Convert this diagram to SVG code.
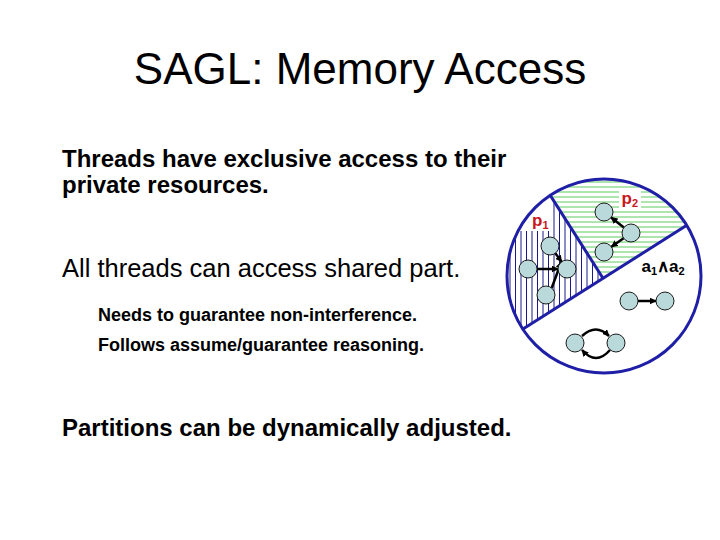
<svg xmlns="http://www.w3.org/2000/svg" width="720" height="540" viewBox="0 0 720 540">
<style>
.t{font-family:"Liberation Sans",Arial,sans-serif;fill:#000}
.b{font-weight:bold}
.lbl{font-family:"Liberation Sans",Arial,sans-serif;font-weight:bold;font-size:17px}
.red{fill:#C8171E}
.node{fill:#B9D9DA;stroke:#1a1a1a;stroke-width:1}
.edge{fill:none;stroke:#000;stroke-width:2.5}
.vh{stroke:#1a1a8c;stroke-width:1}
.gh{stroke:#5FCB5F;stroke-width:1.2}
.blue{fill:none;stroke:#1E1EA6;stroke-width:3}
</style>
<defs>
<marker id="ah" viewBox="0 0 10 10" refX="9" refY="5" markerWidth="7" markerHeight="7" markerUnits="userSpaceOnUse" orient="auto">
<path d="M0,0 L10,5 L0,10 z" fill="#000"/>
</marker>
<clipPath id="circ"><circle cx="604" cy="276" r="97"/></clipPath>
<clipPath id="p1c"><polygon points="527.8,160 603,278.3 500,343.6 500,231 549,231 549,193.3"/></clipPath>
<clipPath id="p2c"><polygon points="527.8,160 603,278.3 720,204.2 720,160"/></clipPath>
</defs>
<rect width="720" height="540" fill="#fff"/>
<text class="t" x="360" y="84" font-size="44" text-anchor="middle">SAGL: Memory Access</text>
<text class="t b" x="62" y="167" font-size="24">Threads have exclusive access to their</text>
<text class="t b" x="62" y="193" font-size="24">private resources.</text>
<text class="t" x="62" y="277" font-size="25.5">All threads can access shared part.</text>
<text class="t b" x="98" y="321" font-size="18">Needs to guarantee non-interference.</text>
<text class="t b" x="98" y="351" font-size="18">Follows assume/guarantee reasoning.</text>
<text class="t b" x="62" y="436" font-size="24">Partitions can be dynamically adjusted.</text>

<g id="memory">
<g clip-path="url(#circ)">
<g clip-path="url(#p1c)">
<path class="vh" d="M510,170V360M515.5,170V360M521,170V360M526.5,170V360M532,170V360M537.5,170V360M543,170V360M548.5,170V360M554,170V360M559.5,170V360M565,170V360M570.5,170V360M576,170V360M581.5,170V360M587,170V360M592.5,170V360M598,170V360"/>
</g>
<g clip-path="url(#p2c)">
<path class="gh" d="M520,182H710M520,187H710M520,192H710M520,197H710M520,202H710M520,207H710M520,212H710M520,217H710M520,222H710M520,227H710M520,232H710M520,237H710M520,242H710M520,247H710M520,252H710M520,257H710M520,262H710M520,267H710M520,272H710M520,277H710"/>
</g>
<rect x="619" y="189" width="22" height="20" fill="#fff"/>
<line class="blue" x1="500" y1="343.6" x2="720" y2="204.2"/>
<line class="blue" x1="527.8" y1="160" x2="603" y2="278.3"/>
</g>
<circle class="blue" cx="604" cy="276" r="97"/>
</g>

<g id="labels">
<text class="lbl red" x="532" y="226">p<tspan font-size="11" dy="3">1</tspan></text>
<text class="lbl red" x="621.5" y="204">p<tspan font-size="11" dy="3">2</tspan></text>
<text class="lbl" x="641.5" y="272">a<tspan font-size="11" dy="3">1</tspan><tspan dy="-3">∧a</tspan><tspan font-size="11" dy="3">2</tspan></text>
</g>

<g id="connectors">
<line class="edge" x1="537" y1="269" x2="558" y2="269" marker-end="url(#ah)"/>
<line class="edge" x1="555.3" y1="253.2" x2="561.7" y2="261.8" marker-end="url(#ah)"/>
<line class="edge" x1="551.7" y1="288" x2="561.3" y2="262" marker-end="url(#ah)"/>
<line class="edge" x1="623.9" y1="227.5" x2="611.1" y2="217.5" marker-end="url(#ah)"/>
<line class="edge" x1="623.6" y1="238.2" x2="611.4" y2="246.8" marker-end="url(#ah)"/>
<line class="edge" x1="638" y1="301" x2="656" y2="301" marker-end="url(#ah)"/>
<path class="edge" d="M582,336 Q596,323 609,336" marker-end="url(#ah)"/>
<path class="edge" d="M610,350 Q596,366 582,350" marker-end="url(#ah)"/>
</g>

<g id="n1"><circle class="node" cx="550" cy="246" r="9"/></g>
<g id="n2"><circle class="node" cx="528" cy="269" r="9"/></g>
<g id="n3"><circle class="node" cx="567" cy="269" r="9"/></g>
<g id="n4"><circle class="node" cx="546" cy="295" r="9"/></g>
<g id="n5"><circle class="node" cx="604" cy="212" r="9"/></g>
<g id="n6"><circle class="node" cx="631" cy="233" r="9"/></g>
<g id="n7"><circle class="node" cx="604" cy="252" r="9"/></g>
<g id="n8"><circle class="node" cx="629" cy="301" r="9"/></g>
<g id="n9"><circle class="node" cx="665" cy="301" r="9"/></g>
<g id="n10"><circle class="node" cx="575" cy="343" r="9"/></g>
<g id="n11"><circle class="node" cx="616" cy="343" r="9"/></g>
</svg>
